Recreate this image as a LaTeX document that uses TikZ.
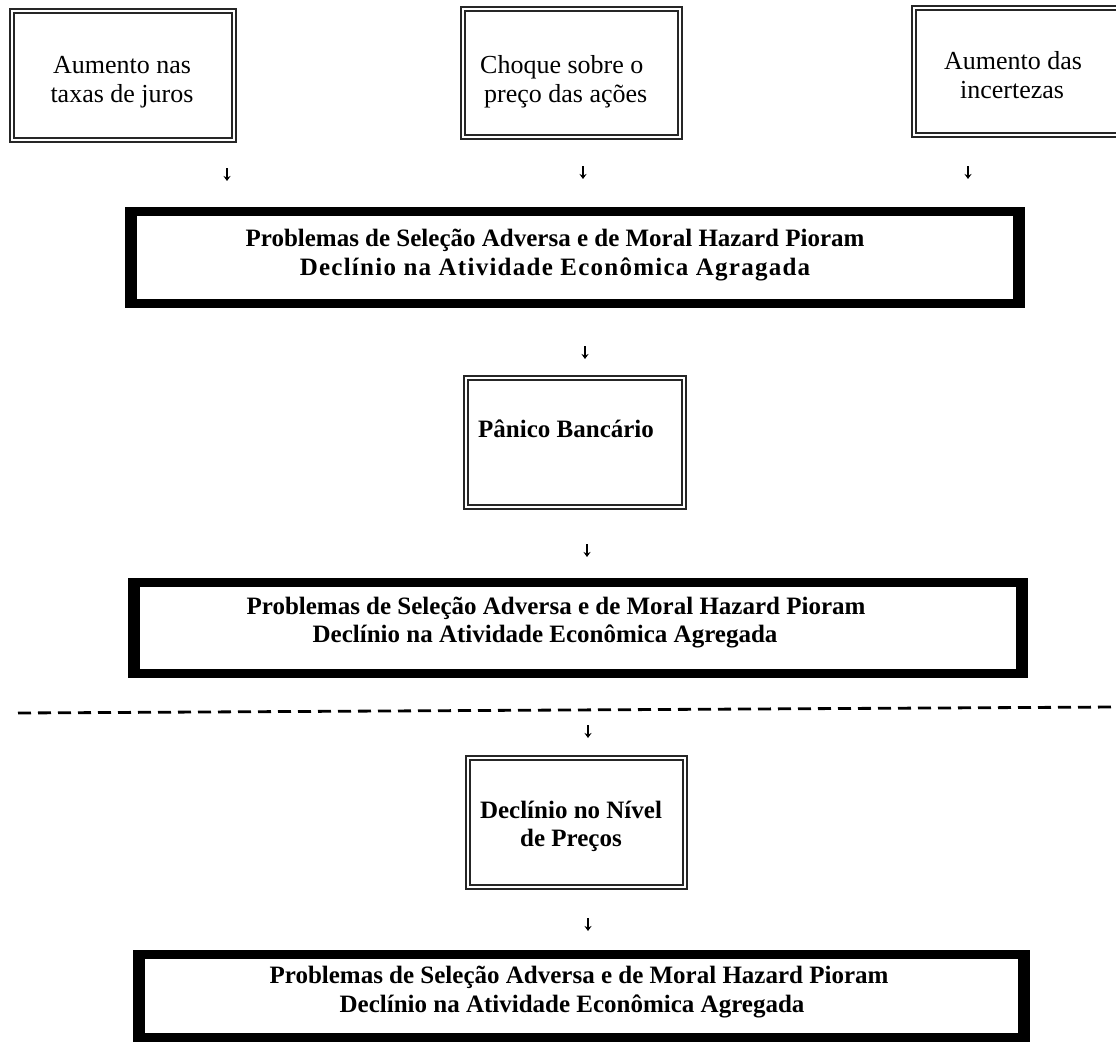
\documentclass[tikz,border=0pt]{standalone}
\usepackage{fontspec}
\setmainfont{Liberation Serif}
\newfontfamily\spacedserif[LetterSpace=5]{Liberation Serif}
\usetikzlibrary{arrows.meta}

\tikzset{
  frame2/.style={draw=black!85, line width=1.6pt, double=white, double distance=2.5pt,
                 inner sep=0pt, outer sep=0pt},
  heavy/.style={draw=black, line width=9pt, inner sep=0pt, outer sep=0pt},
  sidebar/.style={line width=3pt},
  rtxt/.style={anchor=base, inner sep=0pt, font=\fontsize{26}{29}\selectfont},
  btxt/.style={anchor=base, inner sep=0pt, font=\fontsize{25}{30}\selectfont\bfseries},
  tinyarrow/.style={-{Stealth[length=5pt,width=7pt]}, line width=1.3pt},
  sepline/.style={line width=2.8pt, dash pattern=on 13pt off 7pt}
}

\begin{document}
\begin{tikzpicture}[x=1pt, y=-1pt]
  \useasboundingbox (0,0) rectangle (1116,1044);
  \clip (0,0) rectangle (1116,1044);
  \fill[white] (0,0) rectangle (1116,1044);

  % --- three causes (top row) ---
  \node[frame2, minimum width=222.3pt, minimum height=129.3pt] (juros) at (123,75.5) {};
  \node[frame2, minimum width=217.3pt, minimum height=128.3pt] (acoes) at (571.5,73) {};
  \node[frame2, minimum width=216pt,   minimum height=127.3pt] (incert) at (1022,71.5) {};

  \node[rtxt] (t1a) at (122,73)  {Aumento nas};
  \node[rtxt] (t1b) at (122,102) {taxas de juros};
  \node[rtxt, anchor=base west] (t2a) at (480,73)  {Choque sobre o};
  \node[rtxt, anchor=base west] (t2b) at (484,102) {preço das ações};
  \node[rtxt] (t3a) at (1013,69) {Aumento das};
  \node[rtxt] (t3b) at (1012,98) {incertezas};

  % --- first consequence ---
  \node[heavy, minimum width=891pt, minimum height=92pt] (cons1) at (575,257.5) {};
  \node[btxt] (c1a) at (555,246) {Problemas de Seleção Adversa e de Moral Hazard Pioram};
  \node[btxt, font=\spacedserif\fontsize{25}{30}\selectfont\bfseries] (c1b) at (555,275)
       {Declínio na Atividade Econômica Agragada};

  % --- bank panic ---
  \node[frame2, minimum width=218.3pt, minimum height=129.3pt] (panico) at (575,442.5) {};
  \node[btxt, anchor=base west] (pt) at (478,437) {Pânico Bancário};

  % --- second consequence ---
  \node[heavy, minimum width=891pt, minimum height=91pt] (cons2) at (578,628) {};
  \node[btxt] (c2a) at (556,614) {Problemas de Seleção Adversa e de Moral Hazard Pioram};
  \node[btxt] (c2b) at (545,642) {Declínio na Atividade Econômica Agregada};

  % --- separator ---
  \coordinate (sl) at (18,713);
  \coordinate (sr) at (1116,707);
  \draw[sepline] (sl) -- (sr);

  % --- price level ---
  \node[frame2, minimum width=217.3pt, minimum height=129.3pt] (precos) at (576.5,822.5) {};
  \node[btxt] (pr1) at (571,818) {Declínio no Nível};
  \node[btxt] (pr2) at (571,846) {de Preços};

  % --- third consequence ---
  \node[heavy, minimum width=888pt, minimum height=83pt] (cons3) at (581.5,996) {};
  \node[btxt] (c3a) at (579,983)  {Problemas de Seleção Adversa e de Moral Hazard Pioram};
  \node[btxt] (c3b) at (572,1012) {Declínio na Atividade Econômica Agregada};

  % heavier vertical sides of the three heavy frames
  \foreach \b in {cons1,cons2,cons3} {
    \draw[sidebar] ([xshift=6pt]\b.north west) -- ([xshift=6pt]\b.south west);
    \draw[sidebar] ([xshift=-6pt]\b.north east) -- ([xshift=-6pt]\b.south east);
  }

  % --- small arrows between the stages ---
  \coordinate (a1s) at (227,168); \coordinate (a1e) at (227,181);
  \coordinate (a2s) at (583,166); \coordinate (a2e) at (583,179);
  \coordinate (a3s) at (968,166); \coordinate (a3e) at (968,179);
  \coordinate (a4s) at (585,346); \coordinate (a4e) at (585,359);
  \coordinate (a5s) at (587,544); \coordinate (a5e) at (587,557);
  \coordinate (a6s) at (588,725); \coordinate (a6e) at (588,738);
  \coordinate (a7s) at (588,918); \coordinate (a7e) at (588,931);
  \foreach \i in {1,...,7} { \draw[tinyarrow] (a\i s) -- (a\i e); }
\end{tikzpicture}
\end{document}
